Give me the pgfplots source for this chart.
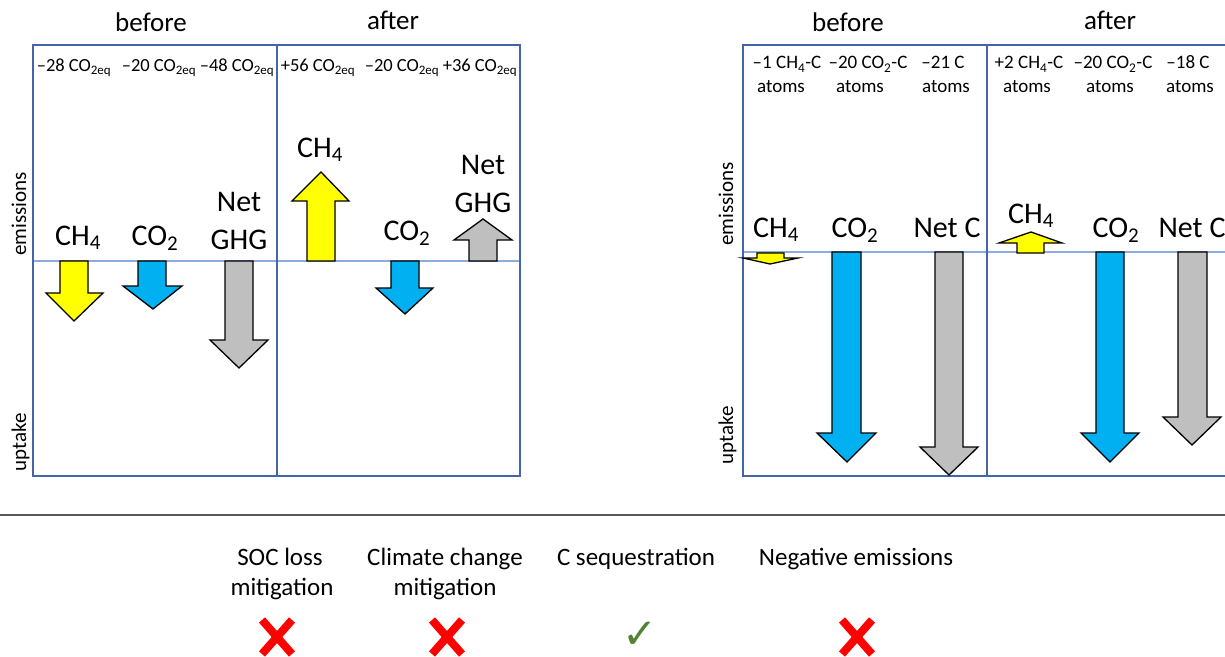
\documentclass[border=0pt]{standalone}
\usepackage{fontspec}
\setmainfont{Carlito}
\newfontfamily\dejavu{DejaVu Sans}
\usepackage{pgfplots}
\pgfplotsset{compat=1.18}
\definecolor{boxc}{RGB}{68,102,166}
\definecolor{zeroc}{RGB}{143,170,220}
\definecolor{ych}{RGB}{255,255,0}
\definecolor{bco}{RGB}{0,176,240}
\definecolor{gnet}{RGB}{191,191,191}
\definecolor{okg}{RGB}{84,130,53}
\definecolor{xred}{RGB}{255,0,0}
\tikzset{
  arr/.style={draw=black, line width=1.3bp, line join=miter},
  ttl/.style={font=\fontsize{27bp}{32bp}\selectfont, anchor=base},
  numl/.style={font=\fontsize{18.5bp}{22bp}\selectfont, anchor=base},
  num/.style={font=\fontsize{19bp}{23bp}\selectfont, anchor=base},
  lab/.style={font=\fontsize{30bp}{36bp}\selectfont, anchor=base},
  side/.style={font=\fontsize{21bp}{25bp}\selectfont, rotate=90, anchor=base west},
  bot/.style={font=\fontsize{25bp}{30bp}\selectfont, anchor=base},
  sym/.style={font=\dejavu\fontsize{42bp}{44bp}\selectfont, anchor=center, inner sep=0pt},
  xs/.style={xred, line width=8bp, line cap=butt},
}
\begin{document}
\begin{tikzpicture}
\begin{axis}[name=ax, width=1225bp, height=657bp, scale only axis,
  xmin=0, xmax=1225, ymin=0, ymax=657, y dir=reverse,
  hide axis, no markers, clip=true]
% panel frames and zero lines
\addplot[zeroc, line width=1.2bp] coordinates {(33,261) (520,261)};
\addplot[zeroc, line width=1.2bp] coordinates {(743,252) (1225,252)};
\addplot[boxc, line width=1.8bp] coordinates {(33,45) (520,45) (520,476) (33,476)} --cycle;
\addplot[boxc, line width=1.8bp] coordinates {(277,45) (277,476)};
\addplot[boxc, line width=1.8bp] coordinates {(743,45) (1240,45) (1240,476) (743,476)} --cycle;
\addplot[boxc, line width=1.8bp] coordinates {(987,45) (987,476)};
\addplot[black!65, line width=1.5bp] coordinates {(0,515) (1225,515)};
% left panel arrows (CO2eq)
\addplot[arr, fill=ych] coordinates {(60,261) (88,261) (88,293) (103,293) (74,321) (46,293) (60,293)} --cycle;
\addplot[arr, fill=bco] coordinates {(138,261) (166,261) (166,286) (182,286) (153,309) (123,286) (138,286)} --cycle;
\addplot[arr, fill=gnet] coordinates {(225,261) (253,261) (253,340) (268,340) (239,368) (210,340) (225,340)} --cycle;
\addplot[arr, fill=ych] coordinates {(307,261) (335,261) (335,201) (349,201) (321,172) (292,201) (307,201)} --cycle;
\addplot[arr, fill=bco] coordinates {(391,261) (419,261) (419,288) (433,288) (405,314) (376,288) (391,288)} --cycle;
\addplot[arr, fill=gnet] coordinates {(469,261) (497,261) (497,240) (512,240) (483,219) (454,240) (469,240)} --cycle;
% right panel arrows (C atoms)
\addplot[arr, fill=ych] coordinates {(757,253) (784,253) (784,258) (798,258) (770,264) (743,258) (757,258)} --cycle;
\addplot[arr, fill=bco] coordinates {(832,252) (861,252) (861,433) (876,433) (847,462) (817,433) (832,433)} --cycle;
\addplot[arr, fill=gnet] coordinates {(935,252) (963,252) (963,447) (978,447) (949,475) (920,447) (935,447)} --cycle;
\addplot[arr, fill=ych] coordinates {(1017,253) (1044,253) (1044,243) (1062,243) (1031,232) (999,243) (1017,243)} --cycle;
\addplot[arr, fill=bco] coordinates {(1096,252) (1124,252) (1124,433) (1139,433) (1110,462) (1081,433) (1096,433)} --cycle;
\addplot[arr, fill=gnet] coordinates {(1178,252) (1207,252) (1207,417) (1221,417) (1192,445) (1163,417) (1178,417)} --cycle;
% red crosses
\addplot[xs] coordinates {(262,620) (292,654)};
\addplot[xs] coordinates {(292,620) (262,654)};
\addplot[xs] coordinates {(432,620) (462,654)};
\addplot[xs] coordinates {(462,620) (432,654)};
\addplot[xs] coordinates {(842,620) (872,654)};
\addplot[xs] coordinates {(872,620) (842,654)};
% titles
\node[ttl] at (axis cs:151,32) {before};
\node[ttl] at (axis cs:393,30) {after};
\node[ttl] at (axis cs:848,32) {before};
\node[ttl] at (axis cs:1110,30) {after};
% left numbers
\node[numl] at (axis cs:74,72) {–28 CO\textsubscript{2eq}};
\node[numl] at (axis cs:159,72) {–20 CO\textsubscript{2eq}};
\node[numl] at (axis cs:237,72) {–48 CO\textsubscript{2eq}};
\node[numl] at (axis cs:318,72) {+56 CO\textsubscript{2eq}};
\node[numl] at (axis cs:402,72) {–20 CO\textsubscript{2eq}};
\node[numl] at (axis cs:480,72) {+36 CO\textsubscript{2eq}};
% right numbers
\node[num] at (axis cs:787,69) {–1 CH\textsubscript{4}-C};
\node[num] at (axis cs:781,92) {atoms};
\node[num] at (axis cs:868,69) {–20 CO\textsubscript{2}-C};
\node[num] at (axis cs:860,92) {atoms};
\node[num] at (axis cs:943,69) {–21 C};
\node[num] at (axis cs:946,92) {atoms};
\node[num] at (axis cs:1029,69) {+2 CH\textsubscript{4}-C};
\node[num] at (axis cs:1027,92) {atoms};
\node[num] at (axis cs:1113,69) {–20 CO\textsubscript{2}-C};
\node[num] at (axis cs:1110,92) {atoms};
\node[num] at (axis cs:1188,69) {–18 C};
\node[num] at (axis cs:1190,92) {atoms};
% arrow labels
\node[lab] at (axis cs:78,245) {CH\textsubscript{4}};
\node[lab] at (axis cs:155,245) {CO\textsubscript{2}};
\node[lab] at (axis cs:239,211) {Net};
\node[lab] at (axis cs:239,249) {GHG};
\node[lab] at (axis cs:320,157) {CH\textsubscript{4}};
\node[lab] at (axis cs:407,240) {CO\textsubscript{2}};
\node[lab] at (axis cs:483,174) {Net};
\node[lab] at (axis cs:483,212) {GHG};
\node[lab] at (axis cs:776,237) {CH\textsubscript{4}};
\node[lab] at (axis cs:855,237) {CO\textsubscript{2}};
\node[lab] at (axis cs:947,237) {Net C};
\node[lab] at (axis cs:1031,223) {CH\textsubscript{4}};
\node[lab] at (axis cs:1116,237) {CO\textsubscript{2}};
\node[lab, anchor=base west] at (axis cs:1155,237) {Net C};
% side labels
\node[side] at (axis cs:26,259) {emissions};
\node[side] at (axis cs:26,475) {uptake};
\node[side] at (axis cs:733,249) {emissions};
\node[side] at (axis cs:733,468) {uptake};
% bottom
\node[bot] at (axis cs:280,565) {SOC loss};
\node[bot] at (axis cs:282,595) {mitigation};
\node[bot] at (axis cs:445,565) {Climate change};
\node[bot] at (axis cs:445,595) {mitigation};
\node[bot] at (axis cs:636,565) {C sequestration};
\node[bot] at (axis cs:856,565) {Negative emissions};
\node[sym, text=okg] at (axis cs:640,635) {✓};
\end{axis}
\pgfresetboundingbox
\path[use as bounding box] (ax.south west) rectangle (ax.north east);
\end{tikzpicture}
\end{document}
